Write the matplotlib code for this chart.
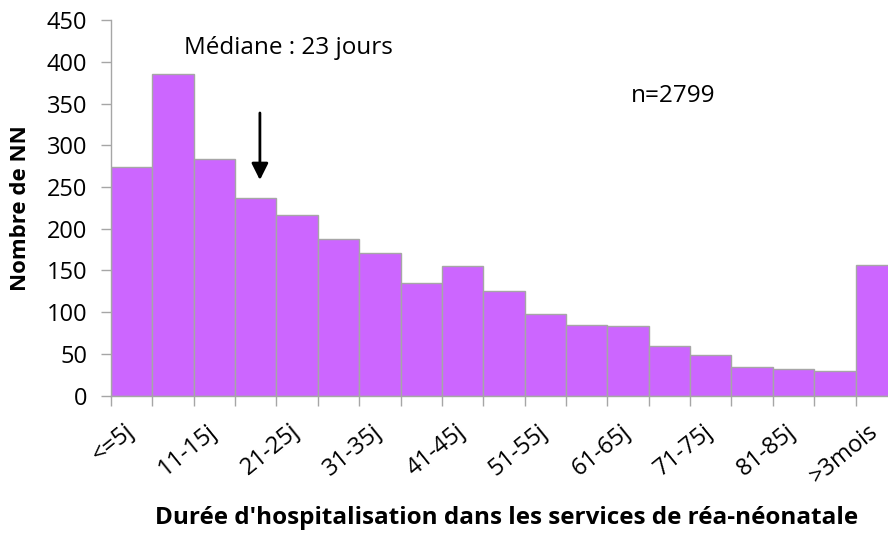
import numpy as np
import matplotlib
matplotlib.use("Agg")
import matplotlib.pyplot as plt
from matplotlib.ticker import FixedLocator
import matplotlib.transforms as mtransforms

plt.rcParams["font.family"] = ["Open Sans", "DejaVu Sans"]

# ---------------------------------------------------------------- data
categories = ["<=5j", "6-10j", "11-15j", "16-20j", "21-25j", "26-30j",
              "31-35j", "36-40j", "41-45j", "46-50j", "51-55j", "56-60j",
              "61-65j", "66-70j", "71-75j", "76-80j", "81-85j", "86-90j",
              ">3mois"]
counts = [274, 385, 283, 237, 216, 188, 171, 135, 155, 126, 98, 85, 83,
          60, 49, 34, 32, 30, 156]

bar_color = "#CC66FF"
edge_color = "#A6A6A6"
fs = 17

fig = plt.figure(figsize=(8.88, 5.34), dpi=100)
ax = fig.add_axes([0.125, 0.259, 0.885, 0.7035])

x = np.arange(len(categories))
ax.bar(x, counts, width=1.0, color=bar_color, edgecolor=edge_color,
       linewidth=1.0, zorder=2)

ax.set_xlim(-0.5, len(categories) - 0.5)
ax.set_ylim(0, 450)
ax.set_yticks(np.arange(0, 451, 50))

# tick marks on category boundaries, labels on every other category
ax.xaxis.set_minor_locator(FixedLocator(np.arange(-0.5, len(categories), 1.0)))
ax.set_xticks(x[::2], categories[::2])
ax.tick_params(axis="x", which="major", length=0, pad=17, labelsize=fs)
ax.tick_params(axis="x", which="minor", length=7, color=edge_color, width=1)
ax.tick_params(axis="y", length=7, color=edge_color, width=1, labelsize=fs,
               pad=10)
offset = mtransforms.ScaledTranslation(-8 / 100, 0, fig.dpi_scale_trans)
for lab in ax.get_xticklabels():
    lab.set_rotation(39)
    lab.set_ha("right")
    lab.set_va("top")
    lab.set_rotation_mode("anchor")
    lab.set_transform(lab.get_transform() + offset)

for side in ["top", "right"]:
    ax.spines[side].set_visible(False)
for side in ["left", "bottom"]:
    ax.spines[side].set_color(edge_color)
    ax.spines[side].set_linewidth(1)

ax.set_ylabel("Nombre de NN", fontsize=16, fontweight="bold")
ax.yaxis.set_label_coords(-0.102, 0.5)
fig.text(0.57, 0.03, "Durée d'hospitalisation dans les services de réa-néonatale",
         ha="center", va="center", fontsize=17.5, fontweight="bold")

ax.text(3.8, 417, "Médiane : 23 jours", ha="center", va="center", fontsize=17.5)
ax.text(13.1, 359, "n=2799", ha="center", va="center", fontsize=17.5)
ax.annotate("", xy=(3.1, 255), xytext=(3.1, 342),
            arrowprops=dict(arrowstyle="-|>", color="black", lw=2,
                            mutation_scale=25))

fig.savefig("out.png", dpi=100)
